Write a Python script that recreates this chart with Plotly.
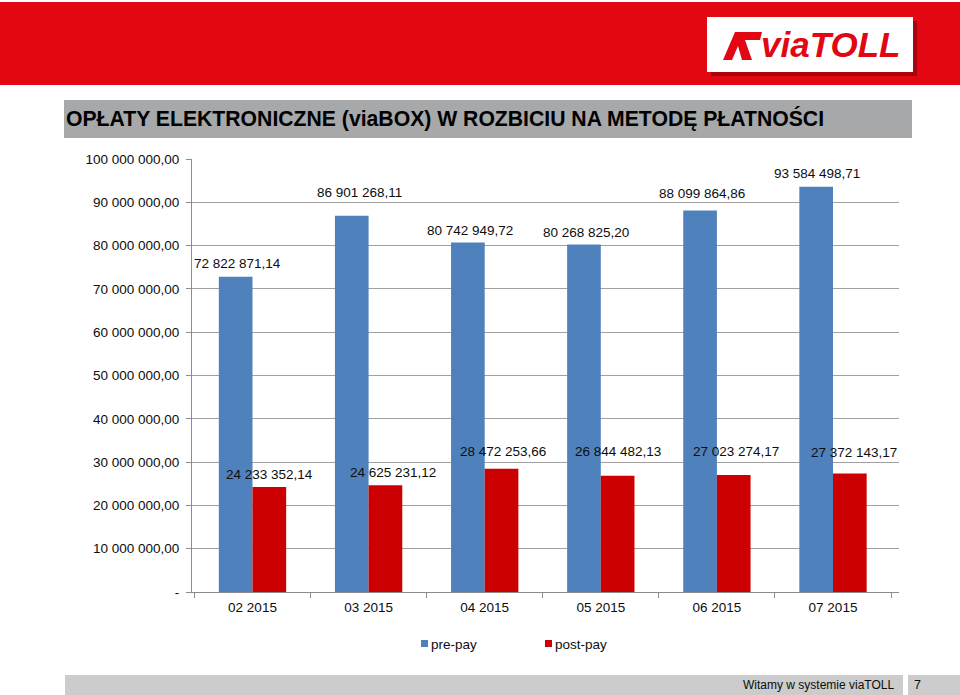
import plotly.graph_objects as go

categories = ["02 2015", "03 2015", "04 2015", "05 2015", "06 2015", "07 2015"]
pre_pay = [72822871.14, 86901268.11, 80742949.72, 80268825.20, 88099864.86, 93584498.71]
post_pay = [24233352.14, 24625231.12, 28472253.66, 26844482.13, 27023274.17, 27372143.17]
pre_labels = ["72 822 871,14", "86 901 268,11", "80 742 949,72", "80 268 825,20", "88 099 864,86", "93 584 498,71"]
post_labels = ["24 233 352,14", "24 625 231,12", "28 472 253,66", "26 844 482,13", "27 023 274,17", "27 372 143,17"]
y_tickvals = [0, 10e6, 20e6, 30e6, 40e6, 50e6, 60e6, 70e6, 80e6, 90e6, 100e6]
y_ticktext = ["-", "10 000 000,00", "20 000 000,00", "30 000 000,00", "40 000 000,00", "50 000 000,00",
              "60 000 000,00", "70 000 000,00", "80 000 000,00", "90 000 000,00", "100 000 000,00"]
series_names = ["pre-pay", "post-pay"]

# label placement styling (pixel offsets, as manually placed in the original)
pre_yshift = [13, 23, 12, 12, 17, 13]
pre_xshift = [-15, -9, -15, -15, -15, -16]
post_yshift = [13, 13, 17, 24, 23, 21]
post_xshift = [17, 24, 18, 17, 19, 21]

BLUE = "#4f81bd"
RED = "#cc0000"
TXT = "#0d0d0d"
FONT = "Liberation Sans, Arial, sans-serif"

W, H = 960, 695
L, R, T, B = 192, 61, 159, 103
PW, PH = W - L - R, H - T - B


def px(xp):
    return (xp - L) / PW


def py(yp):
    return (H - B - yp) / PH


fig = go.Figure()
fig.add_trace(go.Bar(x=categories, y=pre_pay, name=series_names[0], marker_color=BLUE, marker_line_width=0))
fig.add_trace(go.Bar(x=categories, y=post_pay, name=series_names[1], marker_color=RED, marker_line_width=0))

annotations = []
for c, v, t, dx, dy in zip(categories, pre_pay, pre_labels, pre_xshift, pre_yshift):
    annotations.append(dict(x=c, y=v, xref="x", yref="y", text=t, showarrow=False,
                            xshift=dx, yshift=dy, font=dict(family=FONT, size=13.5, color=TXT)))
for c, v, t, dx, dy in zip(categories, post_pay, post_labels, post_xshift, post_yshift):
    annotations.append(dict(x=c, y=v, xref="x", yref="y", text=t, showarrow=False,
                            xshift=dx, yshift=dy, font=dict(family=FONT, size=13.5, color=TXT)))

# title text
annotations.append(dict(x=px(64), y=py(119), xref="paper", yref="paper", xanchor="left", yanchor="middle",
                        text="<b>OPŁATY ELEKTRONICZNE (viaBOX) W ROZBICIU NA METODĘ PŁATNOŚCI</b>",
                        showarrow=False, font=dict(family=FONT, size=21.2, color="#000000")))
# logo text
annotations.append(dict(x=px(759), y=py(44), xref="paper", yref="paper", xanchor="left", yanchor="middle",
                        text="<b><i>via</i><i>TOLL</i></b>", showarrow=False,
                        font=dict(family=FONT, size=35, color="#e30613")))
# footer texts
annotations.append(dict(x=px(896), y=py(685), xref="paper", yref="paper", xanchor="right", yanchor="middle",
                        text="Witamy w systemie viaTOLL", showarrow=False,
                        font=dict(family=FONT, size=12, color=TXT)))
annotations.append(dict(x=px(912), y=py(685), xref="paper", yref="paper", xanchor="left", yanchor="middle",
                        text="7", showarrow=False, font=dict(family=FONT, size=12.5, color=TXT)))
# manual legend (Excel-like compact swatches)
legend_x = [421, 545]
legend_colors = [BLUE, RED]
shapes = []
for name, lx, col in zip(series_names, legend_x, legend_colors):
    shapes.append(dict(type="rect", xref="paper", yref="paper", x0=px(lx), x1=px(lx + 7),
                       y0=py(647), y1=py(640), fillcolor=col, line_width=0))
    annotations.append(dict(x=px(lx + 8), y=py(644), xref="paper", yref="paper", xanchor="left",
                            yanchor="middle", text=name, showarrow=False,
                            font=dict(family=FONT, size=13.5, color=TXT)))

shapes += [
    # red header band
    dict(type="rect", xref="paper", yref="paper", x0=px(0), x1=px(960), y0=py(2), y1=py(85),
         fillcolor="#e30613", line_width=0, layer="below"),
    # logo shadow and box
    dict(type="rect", xref="paper", yref="paper", x0=px(711), x1=px(917), y0=py(21), y1=py(76),
         fillcolor="#a8050e", line_width=0, layer="below"),
    dict(type="rect", xref="paper", yref="paper", x0=px(707), x1=px(913), y0=py(17), y1=py(72),
         fillcolor="#ffffff", line_width=0, layer="below"),
    # logo road icon
    dict(type="path", xref="paper", yref="paper",
         path=f"M {px(723)} {py(60)} L {px(735)} {py(32)} L {px(762)} {py(32)} L {px(760)} {py(40)} "
              f"L {px(745)} {py(40)} L {px(752)} {py(60)} L {px(742)} {py(60)} L {px(738)} {py(46)} "
              f"L {px(732)} {py(60)} Z",
         fillcolor="#e30613", line_width=0),
    # title bar
    dict(type="rect", xref="paper", yref="paper", x0=px(64), x1=px(912), y0=py(100), y1=py(138),
         fillcolor="#a6a8a9", line_width=0, layer="below"),
    # footer bars
    dict(type="rect", xref="paper", yref="paper", x0=px(65), x1=px(903), y0=py(675), y1=py(695),
         fillcolor="#cccccc", line_width=0, layer="below"),
    dict(type="rect", xref="paper", yref="paper", x0=px(908), x1=px(960), y0=py(675), y1=py(695),
         fillcolor="#cccccc", line_width=0, layer="below"),
]

fig.update_layout(
    width=W, height=H,
    margin=dict(l=L, r=R, t=T, b=B, pad=0),
    paper_bgcolor="white", plot_bgcolor="white",
    barmode="group", bargap=0.42, bargroupgap=0,
    font=dict(family=FONT, size=13.5, color=TXT),
    showlegend=False,
    annotations=annotations,
    shapes=shapes,
    xaxis=dict(type="category", showgrid=False, showline=True, linecolor="#8c8c8c", linewidth=1,
               ticks="outside", ticklen=5, tickcolor="#8c8c8c", tickson="boundaries",
               ticklabelstandoff=3,
               tickfont=dict(family=FONT, size=13.5, color=TXT), fixedrange=True),
    yaxis=dict(range=[0, 100e6], tickvals=y_tickvals, ticktext=y_ticktext, showgrid=True,
               gridcolor="#a0a0a0", gridwidth=1, showline=True, linecolor="#8c8c8c", linewidth=1,
               ticks="outside", ticklen=5, tickcolor="#8c8c8c", zeroline=False,
               ticklabelstandoff=4,
               tickfont=dict(family=FONT, size=13.5, color=TXT), fixedrange=True),
)

fig.write_html("out.html")
